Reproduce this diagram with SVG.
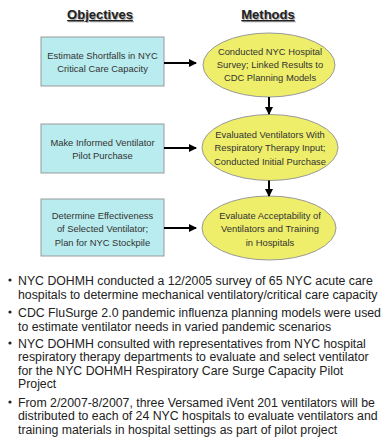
<svg xmlns="http://www.w3.org/2000/svg" width="385" height="442" viewBox="0 0 385 442">
<defs>
<marker id="ah" markerWidth="8" markerHeight="8" refX="7" refY="4" orient="auto" markerUnits="userSpaceOnUse">
<path d="M0,0 L8,4 L0,8 z" fill="#000"/>
</marker>
<style>
.hdr{font-family:"Liberation Sans",Arial,sans-serif;font-size:13px;font-weight:bold;text-anchor:middle;text-decoration:underline;fill:#222}
.hsh{font-family:"Liberation Sans",Arial,sans-serif;font-size:13px;font-weight:bold;text-anchor:middle;text-decoration:underline;fill:#aaa}
.box{fill:#b9ecee;stroke:#999;stroke-width:1}
.ell{fill:#eeee6a;stroke:#999;stroke-width:1}
.nt{font-family:"Liberation Sans",Arial,sans-serif;font-size:9.4px;text-anchor:middle;fill:#333}
.bt{font-family:"Liberation Sans",Arial,sans-serif;font-size:12.3px;fill:#222}
.con{stroke:#000;stroke-width:2;fill:none;marker-end:url(#ah)}
</style>
</defs>
<rect width="385" height="442" fill="#fff"/>
<g id="headers">
<text class="hsh" x="101" y="20">Objectives</text>
<text class="hdr" x="100" y="19">Objectives</text>
<text class="hsh" x="269" y="20">Methods</text>
<text class="hdr" x="268" y="19">Methods</text>
</g>
<g id="obj1">
<rect class="box" x="41" y="37" width="123" height="49"/>
<text class="nt" x="102.5" y="59">Estimate Shortfalls in NYC</text>
<text class="nt" x="102.5" y="72">Critical Care Capacity</text>
</g>
<g id="obj2">
<rect class="box" x="41" y="124" width="123" height="49"/>
<text class="nt" x="102.5" y="146">Make Informed Ventilator</text>
<text class="nt" x="102.5" y="159">Pilot Purchase</text>
</g>
<g id="obj3">
<rect class="box" x="41" y="199" width="123" height="57"/>
<text class="nt" x="102.5" y="219">Determine Effectiveness</text>
<text class="nt" x="102.5" y="232">of Selected Ventilator;</text>
<text class="nt" x="102.5" y="246">Plan for NYC Stockpile</text>
</g>
<g id="meth1">
<ellipse class="ell" cx="269" cy="65" rx="66" ry="32"/>
<text class="nt" x="270" y="55">Conducted NYC Hospital</text>
<text class="nt" x="270" y="68">Survey; Linked Results to</text>
<text class="nt" x="270" y="81">CDC Planning Models</text>
</g>
<g id="meth2">
<ellipse class="ell" cx="270" cy="147.5" rx="68" ry="33"/>
<text class="nt" x="270" y="138">Evaluated Ventilators With</text>
<text class="nt" x="270" y="151">Respiratory Therapy Input;</text>
<text class="nt" x="270" y="165">Conducted Initial Purchase</text>
</g>
<g id="meth3">
<ellipse class="ell" cx="269" cy="228" rx="67" ry="32"/>
<text class="nt" x="270" y="219">Evaluate Acceptability of</text>
<text class="nt" x="270" y="232">Ventilators and Training</text>
<text class="nt" x="270" y="246">in Hospitals</text>
</g>
<g id="connectors">
<line class="con" x1="164" y1="63" x2="196" y2="63"/>
<line class="con" x1="164" y1="148" x2="196" y2="148"/>
<line class="con" x1="164" y1="228" x2="196" y2="228"/>
<line class="con" x1="269" y1="97" x2="269" y2="114"/>
<line class="con" x1="269" y1="180.5" x2="269" y2="196"/>
</g>
<g id="bullets">
<circle cx="10" cy="280" r="1.6" fill="#222"/>
<text class="bt" x="18" y="284.5">NYC DOHMH conducted a 12/2005 survey of 65 NYC acute care</text>
<text class="bt" x="18" y="298.5">hospitals to determine mechanical ventilatory/critical care capacity</text>
<circle cx="10" cy="312" r="1.6" fill="#222"/>
<text class="bt" x="18" y="316.5">CDC FluSurge 2.0 pandemic influenza planning models were used</text>
<text class="bt" x="18" y="330.5">to estimate ventilator needs in varied pandemic scenarios</text>
<circle cx="10" cy="343" r="1.6" fill="#222"/>
<text class="bt" x="18" y="347.5">NYC DOHMH consulted with representatives from NYC hospital</text>
<text class="bt" x="18" y="361">respiratory therapy departments to evaluate and select ventilator</text>
<text class="bt" x="18" y="374.5">for the NYC DOHMH Respiratory Care Surge Capacity Pilot</text>
<text class="bt" x="18" y="388">Project</text>
<circle cx="10" cy="402" r="1.6" fill="#222"/>
<text class="bt" x="18" y="406.5">From 2/2007-8/2007, three Versamed iVent 201 ventilators will be</text>
<text class="bt" x="18" y="420">distributed to each of 24 NYC hospitals to evaluate ventilators and</text>
<text class="bt" x="18" y="433.5">training materials in hospital settings as part of pilot project</text>
</g>
</svg>
